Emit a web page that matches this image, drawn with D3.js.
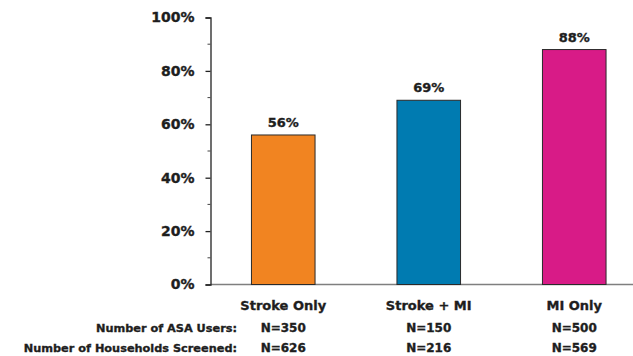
<!DOCTYPE html>
<html>
<head>
<meta charset="utf-8">
<script src="https://cdn.jsdelivr.net/npm/d3@7/dist/d3.min.js"></script>
<style>
  html, body { margin: 0; padding: 0; background: #fff; }
  svg { display: block; font-family: "DejaVu Sans", Verdana, sans-serif; font-weight: bold; }
  svg text { stroke: #1e1e1e; stroke-width: 0.35px; }
</style>
</head>
<body>
<svg id="chart" width="633" height="356"></svg>
<script>
// Aspirin use by cardiovascular history group
const categories = ["Stroke Only", "Stroke + MI", "MI Only"];
const shares = [56, 69, 88];
const barColors = ["#F18421", "#007BB1", "#D81B87"];
const asaUsers = ["N=350", "N=150", "N=500"];
const householdsScreened = ["N=626", "N=216", "N=569"];
const rowLabels = ["Number of ASA Users:", "Number of Households Screened:"];
const yTicks = [0, 20, 40, 60, 80, 100];
const yMinorTicks = [10, 30, 50, 70, 90];

const svg = d3.select("#chart");
const plotLeft = 210.5, plotRight = 647, plotTop = 17.5, plotBottom = 284.5;
const ink = "#1e1e1e";

const x = d3.scaleBand()
  .domain(categories)
  .range([plotLeft, plotRight])
  .paddingInner(0.563)
  .paddingOuter(0.2815);

const y = d3.scaleLinear().domain([0, 100]).range([plotBottom, plotTop]);

// x baseline
svg.append("line")
  .attr("x1", plotLeft).attr("x2", 633)
  .attr("y1", y(0)).attr("y2", y(0))
  .attr("stroke", "#7f7f7f").attr("stroke-width", 1.3);

// bars
svg.selectAll("rect.bar")
  .data(categories)
  .join("rect")
  .attr("class", "bar")
  .attr("x", d => x(d))
  .attr("width", x.bandwidth())
  .attr("y", (d, i) => y(shares[i]))
  .attr("height", (d, i) => y(0) - y(shares[i]))
  .attr("fill", (d, i) => barColors[i])
  .attr("stroke", "#2a2a2a")
  .attr("stroke-width", 1);

// value labels
svg.selectAll("text.val")
  .data(categories)
  .join("text")
  .attr("class", "val")
  .attr("x", d => x(d) + x.bandwidth() / 2)
  .attr("y", (d, i) => y(shares[i]) - 8)
  .attr("text-anchor", "middle")
  .attr("font-size", 13)
  .attr("fill", ink)
  .text((d, i) => shares[i] + "%");

// y axis with minor ticks
const yAxis = d3.axisLeft(y)
  .tickValues(yTicks)
  .tickSize(5)
  .tickPadding(11)
  .tickFormat(d => d + "%");

const gy = svg.append("g")
  .attr("transform", `translate(${plotLeft},0)`)
  .call(yAxis);
gy.select(".domain").attr("stroke", "#222").attr("stroke-width", 1.3);
gy.selectAll(".tick line").attr("stroke", "#222").attr("stroke-width", 1.3);
gy.selectAll(".tick text")
  .attr("font-family", "'DejaVu Sans', Verdana, sans-serif")
  .attr("font-weight", "bold")
  .attr("font-size", 14)
  .attr("fill", ink);

svg.append("g")
  .selectAll("line")
  .data(yMinorTicks)
  .join("line")
  .attr("x1", plotLeft - 3).attr("x2", plotLeft)
  .attr("y1", d => y(d)).attr("y2", d => y(d))
  .attr("stroke", "#444").attr("stroke-width", 1);

// category labels
svg.selectAll("text.cat")
  .data(categories)
  .join("text")
  .attr("class", "cat")
  .attr("x", d => x(d) + x.bandwidth() / 2)
  .attr("y", 310)
  .attr("text-anchor", "middle")
  .attr("font-size", 13)
  .attr("fill", ink)
  .text(d => d);

// sample size rows
const rows = [asaUsers, householdsScreened];
const rowY = [332, 352];
rows.forEach((vals, r) => {
  svg.append("text")
    .attr("x", 237)
    .attr("y", rowY[r])
    .attr("text-anchor", "end")
    .attr("font-size", 11.3)
    .attr("fill", ink)
    .text(rowLabels[r]);
  svg.append("g")
    .selectAll("text")
    .data(categories)
    .join("text")
    .attr("x", d => x(d) + x.bandwidth() / 2)
    .attr("y", rowY[r])
    .attr("text-anchor", "middle")
    .attr("font-size", 12)
    .attr("fill", ink)
    .text((d, i) => vals[i]);
});
</script>
</body>
</html>
